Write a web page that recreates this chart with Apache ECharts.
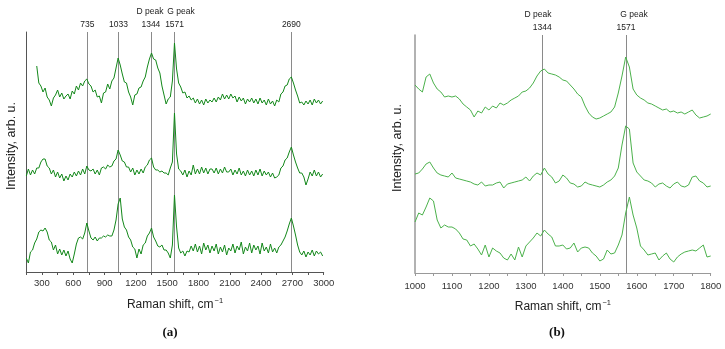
<!DOCTYPE html>
<html>
<head>
<meta charset="utf-8">
<script src="https://cdn.jsdelivr.net/npm/echarts@6/dist/echarts.min.js"></script>
<style>html,body{margin:0;padding:0;background:#fff}#c{width:725px;height:349px}</style>
</head>
<body>
<div id="c"></div>
<script>
// ---------- Panel (a): Raman shift 150..2990 step 20 ----------
const shiftA_start = 150, shiftA_step = 20;
const tickLabelsA = [300, 600, 900, 1200, 1500, 1800, 2100, 2400, 2700, 3000];
const peakLinesA = [735, 1033, 1344, 1571, 2690];
const topA = [
 null,null,null,null,null,206,189,186,180,184,
 175,172,166,174,177,182,175,179,173,176,
 178,173,181,178,186,182,189,186,191,193,
 188,186,180,182,175,176,169,179,180,188,
 183,191,194,204,214,207,198,190,189,180,
 175,167,177,178,184,185,191,195,205,213,
 219,213,212,204,199,186,177,168,173,175,
 191,229,203,189,185,179,180,174,176,172,
 174,169,173,168,172,167,173,169,172,170,
 174,170,175,172,178,173,177,173,178,174,
 176,170,175,171,174,168,173,170,174,169,
 173,168,174,169,172,167,173,168,171,166,
 172,170,178,180,186,187,193,195,189,182,
 176,169,170,167,171,168,172,167,173,169,
 172,168,171];
const midA = [
 96,103,97,102,98,104,104,110,113,113,
 106,104,98,102,95,100,94,98,91,96,
 92,98,95,100,96,101,97,103,98,106,
 102,101,103,98,102,97,104,105,103,107,
 105,106,111,113,122,117,111,110,105,105,
 100,104,97,102,98,103,99,105,107,112,
 114,105,102,102,100,101,99,99,97,104,
 110,159,118,103,101,97,102,95,101,97,
 107,98,103,98,105,99,104,98,103,103,
 99,104,98,103,99,105,100,100,103,97,
 102,98,104,97,101,96,102,97,101,96,
 102,97,103,96,101,97,100,95,99,94,
 95,97,104,106,112,114,120,125,117,110,
 104,99,99,95,87,93,100,96,102,96,
 100,95,98];
const botA = [
 14,9,20,22,29,33,40,42,41,44,
 40,32,30,22,27,18,23,17,22,16,
 21,13,9,18,28,34,35,33,39,49,
 41,34,32,35,31,34,34,36,35,37,
 36,36,42,52,68,74,53,45,42,35,
 32,25,23,14,23,18,27,29,36,39,
 44,35,31,26,25,27,22,22,19,14,
 27,77,45,24,19,21,16,21,20,26,
 21,28,20,26,18,29,22,27,19,26,
 21,28,18,25,20,27,17,24,21,28,
 19,26,22,30,18,25,21,29,19,27,
 22,26,18,29,21,25,19,28,20,24,
 19,25,27,31,35,41,48,54,46,37,
 27,20,17,21,15,20,17,22,16,21,
 18,20,16];

// ---------- Panel (b): Raman shift 1000..1800 step 10 ----------
const shiftB_start = 1000, shiftB_step = 10;
const tickLabelsB = [1000, 1100, 1200, 1300, 1400, 1500, 1600, 1700, 1800];
const peakLinesB = [1344, 1571];
const topB = [
 188,184,181,196,199,190,184,181,176,177,
 176,177,174,169,166,163,156,162,160,166,
 163,167,165,170,168,170,173,175,177,181,
 182,185,190,197,202,204,200,199,198,196,
 193,192,188,184,179,176,167,160,156,154,
 155,157,159,161,166,180,197,216,206,184,
 178,175,173,170,169,167,165,163,164,161,
 162,160,161,159,161,163,158,155,156,157,
 159];
const midB = [
 99,100,104,109,111,105,100,98,97,96,
 100,95,94,93,92,91,89,88,91,87,
 88,88,90,91,85,89,90,91,92,93,
 96,92,97,100,98,105,99,96,90,92,
 98,95,90,89,86,87,91,89,88,87,
 86,88,91,93,97,105,128,147,144,110,
 101,97,93,92,90,86,89,90,87,85,
 89,91,87,86,88,96,97,92,90,86,
 87];
const botB = [
 51,60,58,66,75,72,53,45,48,46,
 46,44,40,34,33,27,29,24,18,28,
 16,25,22,20,15,13,19,13,26,16,
 27,31,35,40,37,43,39,36,27,27,
 28,24,25,30,21,25,26,25,20,17,
 12,14,23,19,20,28,38,60,76,58,
 45,27,23,18,19,20,13,17,20,14,
 11,16,19,21,22,23,22,25,28,16,
 17];

function pairs(start, step, arr){
  const out = [];
  arr.forEach((v,i)=>{ if(v!==null) out.push([start+i*step, v]); });
  return out;
}

const FONT = 'Liberation Sans, Arial, sans-serif';
const greenA = '#13881a', greenB = '#4cb24c';
const lineGray = '#8a8a8a';

function mkLineSeries(xi, vals){
  return {
    type:'line', xAxisIndex:xi, yAxisIndex:xi, data:[], z:1, silent:true,
    markLine:{
      silent:true, symbol:['none','none'], z:1,
      lineStyle:{color:lineGray, width:1, type:'solid'},
      emphasis:{disabled:true},
      label:{show:true, position:'end', distance:3, fontFamily:FONT, fontSize:8.5, color:'#222', formatter:p=>String(p.value)},
      data: vals.map(v=>({xAxis:v}))
    }
  };
}

const xName = {
  name:'{a|Raman shift, cm}{s|\u22121}',
  nameLocation:'middle',
  nameTextStyle:{rich:{
    a:{fontFamily:FONT, fontSize:12, color:'#222', lineHeight:16},
    s:{fontFamily:FONT, fontSize:7.5, color:'#222', verticalAlign:'top', lineHeight:16, padding:[0,0,7,1]}
  }}
};

function spec(xi, arr, start, step, color){
  return {type:'line', xAxisIndex:xi, yAxisIndex:xi, data:pairs(start, step, arr),
    showSymbol:false, symbol:'none', silent:true, lineStyle:{color:color, width:1}, z:3};
}

const chart = echarts.init(document.getElementById('c'), null, {renderer:'canvas'});
chart.setOption({
  animation:false,
  backgroundColor:'#fff',
  grid:[
    {left:26.3, top:32, width:297.4, height:240},
    {left:415, top:35, width:295.7, height:238}
  ],
  xAxis:[
    Object.assign({
      gridIndex:0, type:'value', min:150, max:3000, interval:150,
      nameGap:25,
      axisLine:{lineStyle:{color:'#555', width:1}},
      axisTick:{show:true, length:3, lineStyle:{color:'#555'}},
      axisLabel:{fontFamily:FONT, fontSize:9.5, color:'#333', margin:6,
        formatter:v=> tickLabelsA.includes(v) ? String(v) : ''},
      splitLine:{show:false}
    }, xName),
    Object.assign({
      gridIndex:1, type:'value', min:1000, max:1800, interval:50,
      nameGap:26,
      axisLine:{lineStyle:{color:'#999', width:1}},
      axisTick:{show:true, length:3, lineStyle:{color:'#999'}},
      axisLabel:{fontFamily:FONT, fontSize:9.5, color:'#333', margin:8,
        formatter:v=> tickLabelsB.includes(v) ? String(v) : ''},
      splitLine:{show:false}
    }, xName)
  ],
  yAxis:[
    {gridIndex:0, type:'value', min:0, max:240, axisLine:{show:true, lineStyle:{color:'#555'}},
     axisTick:{show:false}, axisLabel:{show:false}, splitLine:{show:false}},
    {gridIndex:1, type:'value', min:0, max:238, axisLine:{show:true, lineStyle:{color:'#999', width:1.5}},
     axisTick:{show:false}, axisLabel:{show:false}, splitLine:{show:false}}
  ],
  series:[
    mkLineSeries(0, peakLinesA),
    mkLineSeries(1, peakLinesB),
    spec(0, botA, shiftA_start, shiftA_step, greenA),
    spec(0, midA, shiftA_start, shiftA_step, greenA),
    spec(0, topA, shiftA_start, shiftA_step, greenA),
    spec(1, botB, shiftB_start, shiftB_step, greenB),
    spec(1, midB, shiftB_start, shiftB_step, greenB),
    spec(1, topB, shiftB_start, shiftB_step, greenB)
  ],
  graphic:[
    {type:'text', x:150, y:12, style:{text:'D peak', font:'8.5px '+FONT, fill:'#222', align:'center', verticalAlign:'middle'}},
    {type:'text', x:181, y:12, style:{text:'G peak', font:'8.5px '+FONT, fill:'#222', align:'center', verticalAlign:'middle'}},
    {type:'text', x:538, y:15, style:{text:'D peak', font:'8.5px '+FONT, fill:'#222', align:'center', verticalAlign:'middle'}},
    {type:'text', x:634, y:15, style:{text:'G peak', font:'8.5px '+FONT, fill:'#222', align:'center', verticalAlign:'middle'}},
    {type:'text', x:12, y:146, rotation:Math.PI/2, style:{text:'Intensity, arb. u.', font:'12.5px '+FONT, fill:'#222', align:'center', verticalAlign:'middle'}},
    {type:'text', x:398, y:148, rotation:Math.PI/2, style:{text:'Intensity, arb. u.', font:'12.5px '+FONT, fill:'#222', align:'center', verticalAlign:'middle'}},
    {type:'text', x:170, y:333, style:{text:'(a)', font:'bold 13px Liberation Serif, serif', fill:'#111', align:'center', verticalAlign:'middle'}},
    {type:'text', x:557, y:333, style:{text:'(b)', font:'bold 13px Liberation Serif, serif', fill:'#111', align:'center', verticalAlign:'middle'}}
  ]
});
</script>
</body>
</html>
